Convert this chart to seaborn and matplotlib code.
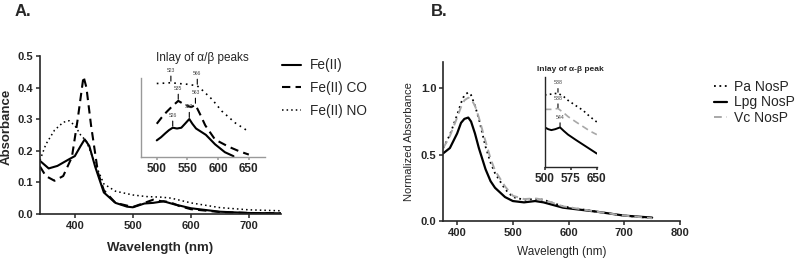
import numpy as np
import pandas as pd
import seaborn as sns
import matplotlib.pyplot as plt

# ---- panel A, main spectra ----
wl_a_fe = [340, 355, 370, 390, 400, 410, 417, 425, 435, 450, 470, 490, 500, 520, 535, 553, 570, 600, 650, 700, 755]
abs_a_fe = [0.168, 0.144, 0.152, 0.173, 0.183, 0.215, 0.236, 0.215, 0.15, 0.068, 0.035, 0.023, 0.021, 0.033, 0.035, 0.04, 0.031, 0.018, 0.007, 0.003, 0.002]
wl_a_co = [340, 350, 365, 380, 395, 405, 415, 420, 428, 440, 450, 470, 500, 520, 535, 550, 563, 580, 600, 650, 700, 755]
abs_a_co = [0.15, 0.12, 0.105, 0.12, 0.18, 0.30, 0.435, 0.40, 0.28, 0.13, 0.075, 0.035, 0.022, 0.035, 0.045, 0.04, 0.038, 0.025, 0.015, 0.006, 0.003, 0.002]
wl_a_no = [340, 350, 365, 380, 390, 400, 410, 420, 435, 450, 470, 500, 523, 550, 566, 600, 650, 700, 755]
abs_a_no = [0.17, 0.22, 0.265, 0.29, 0.295, 0.28, 0.25, 0.23, 0.16, 0.095, 0.072, 0.06, 0.055, 0.053, 0.05, 0.035, 0.02, 0.013, 0.01]

# ---- panel A, inset (arbitrary units) ----
ins_a_fe_wl = [500, 507, 514, 520, 526, 533, 540, 546, 553, 558, 564, 572, 580, 595, 611, 625]
ins_a_fe = [0.21, 0.25, 0.30, 0.34, 0.37, 0.36, 0.37, 0.42, 0.48, 0.42, 0.36, 0.32, 0.28, 0.16, 0.06, 0.01]
ins_a_co_wl = [500, 508, 516, 525, 535, 546, 556, 563, 570, 579, 595, 617, 635, 650]
ins_a_co = [0.42, 0.50, 0.57, 0.64, 0.71, 0.66, 0.63, 0.66, 0.55, 0.40, 0.22, 0.13, 0.07, 0.03]
ins_a_no_wl = [500, 515, 523, 535, 550, 566, 575, 590, 606, 628, 650]
ins_a_no = [0.93, 0.935, 0.94, 0.93, 0.92, 0.90, 0.84, 0.73, 0.58, 0.43, 0.32]
peaks_a_fe = [526, 553]
peaks_a_co = [535, 563]
peaks_a_no = [523, 566]

# ---- panel B, main spectra ----
wl_b = [375, 387, 400, 407, 413, 420, 425, 432, 439, 451, 460, 468, 486, 500, 520, 540, 555, 590, 650, 700, 750]
abs_b_lpg = [0.51, 0.55, 0.66, 0.74, 0.77, 0.78, 0.75, 0.66, 0.55, 0.39, 0.30, 0.25, 0.18, 0.15, 0.14, 0.15, 0.14, 0.10, 0.07, 0.04, 0.025]
abs_b_pa = [0.55, 0.65, 0.80, 0.89, 0.95, 0.97, 0.95, 0.87, 0.77, 0.56, 0.44, 0.36, 0.24, 0.18, 0.16, 0.165, 0.16, 0.11, 0.07, 0.04, 0.02]
abs_b_vc = [0.55, 0.64, 0.78, 0.86, 0.91, 0.93, 0.92, 0.87, 0.78, 0.60, 0.47, 0.38, 0.26, 0.19, 0.165, 0.17, 0.16, 0.11, 0.07, 0.04, 0.02]

# ---- panel B, inset (arbitrary units) ----
ins_b_wl = [500, 520, 538, 555, 567, 590, 610, 630, 650]
ins_b_pa = [0.80, 0.81, 0.82, 0.78, 0.74, 0.68, 0.63, 0.56, 0.50]
ins_b_vc = [0.64, 0.64, 0.65, 0.60, 0.56, 0.50, 0.45, 0.40, 0.36]
ins_b_lpg_wl = [500, 510, 519, 530, 544, 555, 567, 590, 610, 630, 650]
ins_b_lpg = [0.44, 0.42, 0.41, 0.42, 0.44, 0.40, 0.36, 0.30, 0.25, 0.20, 0.15]
peaks_b = [("538", 538, "pa"), ("538", 538, "vc"), ("544", 544, "lpg")]

sns.set_style("ticks")
plt.rcParams['font.family'] = ['Liberation Sans', 'DejaVu Sans']
plt.rcParams['axes.linewidth'] = 1.2

fig = plt.figure(figsize=(8, 2.59), dpi=100)

GRAY = "#a8a8a8"


def line(ax, x, y, ls, color="black", lw=1.5, label=None):
    sns.lineplot(x=x, y=y, ax=ax, color=color, lw=lw, label=label)
    ax.lines[-1].set_linestyle(ls)


def mark_peaks(ax, wl, vals, peaks, up=6):
    for p in peaks:
        yv = np.interp(p, wl, vals)
        ax.annotate(str(p), xy=(p, yv + 0.02), xytext=(0, up), textcoords="offset points",
                    ha="center", va="bottom", fontsize=3.6, color="#444444",
                    arrowprops=dict(arrowstyle="-", lw=0.8, color="black", shrinkA=0, shrinkB=0))


def style_ticks(ax, bold=True, size=8):
    ax.tick_params(direction="out", length=3, width=1.1, labelsize=size, pad=2)
    for t in ax.get_xticklabels() + ax.get_yticklabels():
        t.set_fontweight("bold" if bold else "normal")


# ================= Panel A =================
axA = fig.add_axes([0.05, 0.174, 0.301, 0.61])
line(axA, wl_a_fe, abs_a_fe, "-", label="Fe(II)")
line(axA, wl_a_co, abs_a_co, (0, (4, 2.5)), label="Fe(II) CO")
line(axA, wl_a_no, abs_a_no, (0, (1, 2)), lw=1.1, label="Fe(II) NO")
axA.set_xlim(340, 755)
axA.set_ylim(0, 0.5)
axA.set_xticks([400, 500, 600, 700])
axA.set_yticks([0, 0.1, 0.2, 0.3, 0.4, 0.5])
axA.set_yticklabels(["0.0", "0.1", "0.2", "0.3", "0.4", "0.5"])
sns.despine(ax=axA)
style_ticks(axA)
axA.set_xlabel("Wavelength (nm)", fontsize=9.5, fontweight="bold")
axA.set_ylabel("Absorbance", fontsize=9.5, fontweight="bold")
axA.xaxis.set_label_coords(0.5, -0.175)
axA.yaxis.set_label_coords(-0.115, 0.55)
axA.legend(loc="upper left", bbox_to_anchor=(0.353, 0.775), bbox_transform=fig.transFigure,
           frameon=False, fontsize=9.8, handlelength=1.4, handletextpad=0.6,
           labelspacing=0.65, borderpad=0, borderaxespad=0)
fig.text(0.018, 0.955, "A.", fontsize=12, fontweight="bold", va="center")

# inset A
insA = fig.add_axes([0.176, 0.394, 0.155, 0.305])
line(insA, ins_a_fe_wl, ins_a_fe, "-")
line(insA, ins_a_co_wl, ins_a_co, (0, (4, 2.5)))
line(insA, ins_a_no_wl, ins_a_no, (0, (1, 2.5)), lw=1.2)
insA.set_xlim(474, 676)
insA.set_ylim(0, 1.0)
insA.set_xticks([500, 550, 600, 650])
insA.set_yticks([])
sns.despine(ax=insA)
for s in ["left", "bottom"]:
    insA.spines[s].set_color("#999999")
    insA.spines[s].set_linewidth(1.0)
style_ticks(insA, size=8.5)
insA.tick_params(axis="x", length=2, color="#999999")
insA.set_title("Inlay of \u03b1/\u03b2 peaks", fontsize=8.5, pad=12)
mark_peaks(insA, ins_a_fe_wl, ins_a_fe, peaks_a_fe)
mark_peaks(insA, ins_a_co_wl, ins_a_co, peaks_a_co)
mark_peaks(insA, ins_a_no_wl, ins_a_no, peaks_a_no)

# ================= Panel B =================
axB = fig.add_axes([0.554, 0.147, 0.296, 0.614])
line(axB, wl_b, abs_b_pa, (0, (1, 2)), lw=1.3, label="Pa NosP")
line(axB, wl_b, abs_b_lpg, "-", lw=1.6, label="Lpg NosP")
line(axB, wl_b, abs_b_vc, (0, (4, 2.5)), color=GRAY, lw=1.4, label="Vc NosP")
axB.set_xlim(375, 800)
axB.set_ylim(0, 1.2)
axB.set_xticks([400, 500, 600, 700, 800])
axB.set_yticks([0, 0.5, 1.0])
axB.set_yticklabels(["0.0", "0.5", "1.0"])
sns.despine(ax=axB)
style_ticks(axB)
axB.set_xlabel("Wavelength (nm)", fontsize=8.5)
axB.set_ylabel("Normalized Absorbance", fontsize=8)
axB.xaxis.set_label_coords(0.5, -0.16)
axB.yaxis.set_label_coords(-0.125, 0.5)
axB.legend(loc="upper left", bbox_to_anchor=(0.892, 0.69), bbox_transform=fig.transFigure,
           frameon=False, fontsize=10, handlelength=1.0, handletextpad=0.45,
           labelspacing=0.08, borderpad=0, borderaxespad=0)
fig.text(0.538, 0.955, "B.", fontsize=12, fontweight="bold", va="center")

# inset B
insB = fig.add_axes([0.681, 0.355, 0.065, 0.348])
line(insB, ins_b_wl, ins_b_pa, (0, (1, 2)), lw=1.2)
line(insB, ins_b_wl, ins_b_vc, (0, (4, 2.5)), color=GRAY, lw=1.2)
line(insB, ins_b_lpg_wl, ins_b_lpg, "-", lw=1.4)
insB.set_xlim(500, 650)
insB.set_ylim(0, 1.0)
insB.set_xticks([500, 575, 650])
insB.set_yticks([])
sns.despine(ax=insB)
insB.spines["left"].set_linewidth(1.0)
insB.spines["bottom"].set_linewidth(1.0)
style_ticks(insB, size=8.5)
insB.tick_params(axis="x", length=2)
insB.set_title("Inlay of \u03b1-\u03b2 peak", fontsize=6, fontweight="bold", pad=4)
series_b = {"pa": (ins_b_wl, ins_b_pa), "vc": (ins_b_wl, ins_b_vc), "lpg": (ins_b_lpg_wl, ins_b_lpg)}
for txt, p, key in peaks_b:
    wl, vals = series_b[key]
    yv = np.interp(p, wl, vals)
    insB.annotate(txt, xy=(p, yv + 0.01), xytext=(0, 5), textcoords="offset points",
                  ha="center", va="bottom", fontsize=3.8, color="#444444",
                  arrowprops=dict(arrowstyle="-", lw=0.8, color="black", shrinkA=0, shrinkB=0))

fig.savefig("out.png", dpi=100)
